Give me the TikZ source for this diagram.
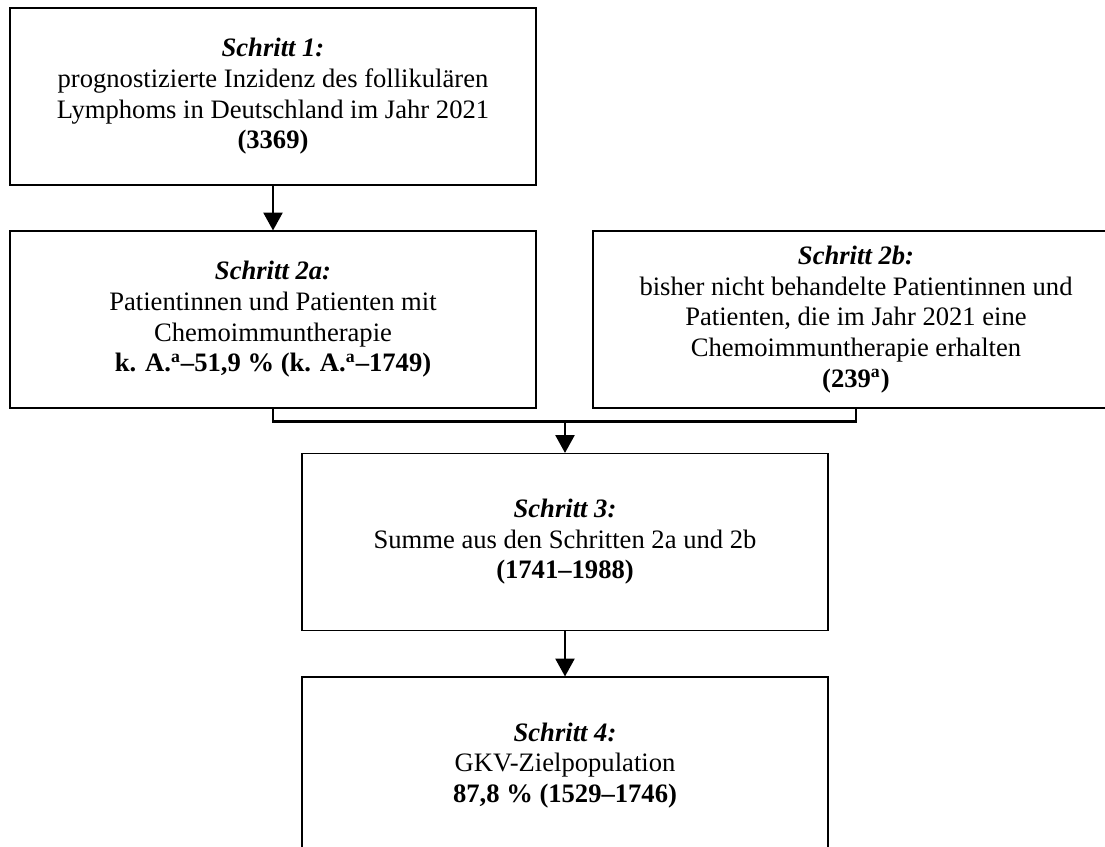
\documentclass[tikz,border=0pt]{standalone}
\usepackage{fontspec}
\setmainfont{Liberation Serif}
\usetikzlibrary{arrows.meta}
\tikzset{
  stepbox/.style={draw=black, line width=0.5pt, minimum width=237.2pt, minimum height=79.8pt,
    inner sep=0pt, align=center, font=\fontsize{12pt}{13.8pt}\selectfont},
  conn/.style={line width=1.1pt, draw=black},
  tip/.style={-{Triangle[width=8.6pt,length=8.1pt]}}
}
\newcommand{\stitle}[1]{\textbf{\textit{#1}}}
\begin{document}
\begin{tikzpicture}[x=0.451pt,y=-0.451pt]
\clip (0,0) rectangle (1105,847);
\fill[white] (0,0) rectangle (1105,847);
\node[stepbox] (b1) at (273,96.5) {\stitle{Schritt 1:}\\prognostizierte Inzidenz des follikulären\\Lymphoms in Deutschland im Jahr 2021\\\textbf{(3369)}};
\node[stepbox] (b2a) at (273,319.5) {\stitle{Schritt 2a:}\\Patientinnen und Patienten mit\\Chemoimmuntherapie\\\textbf{k. A.\textsuperscript{a}–51,9 \% (k. A.\textsuperscript{a}–1749)}};
\node[stepbox] (b2b) at (856,319.5) {\stitle{Schritt 2b:}\\bisher nicht behandelte Patientinnen und\\Patienten, die im Jahr 2021 eine\\Chemoimmuntherapie erhalten\\\textbf{(239\textsuperscript{a})}};
\node[stepbox] (b3) at (565,542) {\stitle{Schritt 3:}\\Summe aus den Schritten 2a und 2b\\\textbf{(1741–1988)}};
\node[stepbox] (b4) at (565,765.5) {\stitle{Schritt 4:}\\GKV-Zielpopulation\\\textbf{87,8 \% (1529–1746)}};
\draw[conn,tip] (b1.south) -- (b2a.north);
\coordinate (j) at (565,421.7);
\draw[conn] (b2a.south) |- (j) -| (b2b.south);
\draw[conn,tip] (j) -- (b3.north);
\draw[conn,tip] (b3.south) -- (b4.north);
\end{tikzpicture}
\end{document}
